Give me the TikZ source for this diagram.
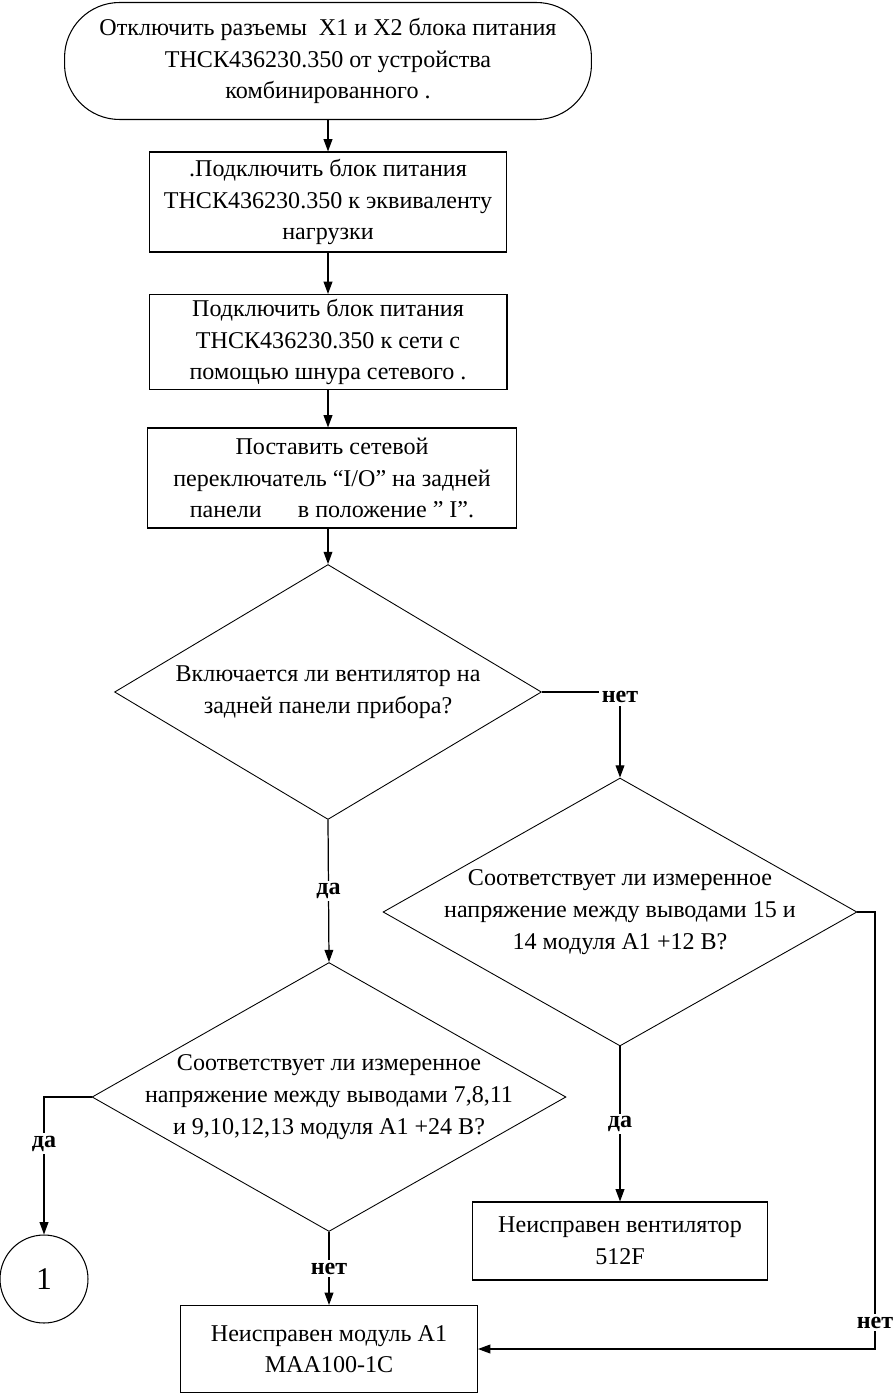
\documentclass[tikz,border=0pt]{standalone}
\usepackage{fontspec}
\setmainfont{Liberation Serif}
\usetikzlibrary{shapes.geometric,arrows.meta}

\begin{document}
\begin{tikzpicture}[x=0.02cm,y=-0.02cm,
    txt/.style={font=\fontsize{13.7}{18}\selectfont,align=center},
    blk/.style={txt,draw,line width=0.6pt,inner sep=0pt},
    dia/.style={diamond,draw,line width=0.5pt,inner sep=0pt},
    lbl/.style={font=\fontsize{13.7}{16}\selectfont\bfseries,fill=white,inner sep=1.5pt},
    arr/.style={line width=0.7pt,-{Triangle[length=7pt,width=5pt]}}]

  \useasboundingbox (0,0) rectangle (893,1395);

  % steps
  \node[blk,rounded corners=1.1cm,minimum width=10.54cm,minimum height=2.34cm] (term) at (328,61)
    {Отключить разъемы \ X1 и X2 блока питания\\ ТНСК436230.350 от устройства\\ комбинированного .};
  \node[blk,minimum width=7.14cm,minimum height=2cm] (box1) at (328,202)
    {.Подключить блок питания\\ ТНСК436230.350 к эквиваленту\\ нагрузки};
  \node[blk,minimum width=7.16cm,minimum height=1.9cm] (box2) at (328,342)
    {Подключить блок питания\\ ТНСК436230.350 к сети с\\ помощью шнура сетевого .};
  \node[blk,minimum width=7.38cm,minimum height=2cm] (box3) at (332,478)
    {Поставить сетевой\\ переключатель “I/O” на задней\\ панели \quad\ в положение ” I”.};

  % questions
  \node[dia,minimum width=8.54cm,minimum height=5.1cm] (d1) at (328,692) {};
  \node[txt] (d1txt) at (d1) {Включается ли вентилятор на\\ задней панели прибора?};
  \node[dia,minimum width=9.48cm,minimum height=5.36cm] (d2) at (620,912) {};
  \node[txt] (d2txt) at (d2) {Соответствует ли измеренное\\ напряжение между выводами 15 и\\ 14 модуля А1 +12 В?};
  \node[dia,minimum width=9.48cm,minimum height=5.38cm] (d3) at (329,1097) {};
  \node[txt] (d3txt) at (d3) {Соответствует ли измеренное\\ напряжение между выводами 7,8,11\\ и 9,10,12,13 модуля А1 +24 В?};

  % results
  \node[blk,minimum width=5.9cm,minimum height=1.56cm] (fan) at (620,1241)
    {Неисправен вентилятор\\ 512F};
  \node[blk,minimum width=5.94cm,minimum height=1.74cm] (a1) at (329,1349)
    {Неисправен модуль А1\\ МАА100-1С};
  \node[circle,draw,line width=0.6pt,minimum size=1.76cm,inner sep=0pt,
        font=\fontsize{18}{20}\selectfont] (c1) at (44,1279) {1};

  \coordinate (d2r) at (875,912);

  % connectors
  \draw[arr] (term.south) -- (box1.north);
  \draw[arr] (box1.south) -- (box1.south |- box2.north);
  \draw[arr] (box2.south) -- (box2.south |- box3.north);
  \draw[arr] (box3.south -| d1.north) -- (d1.north);
  \draw[arr] (d1.south) -- node[lbl] {да} (d3.north);
  \draw[arr] (d1.east) -- (d1.east -| d2.north) node[lbl,yshift=-3pt] {нет} -- (d2.north);
  \draw[arr] (d2.south) -- node[lbl] {да} (fan.north);
  \draw[arr] (d2.east) -- (d2r) -- node[lbl,pos=0.94] {нет} (d2r |- a1.east) -- (a1.east);
  \draw[arr] (d3.west) -- (d3.west -| c1.north) -- node[lbl,pos=0.34] {да} (c1.north);
  \draw[arr] (d3.south) -- node[lbl] {нет} (a1.north);

\end{tikzpicture}
\end{document}
